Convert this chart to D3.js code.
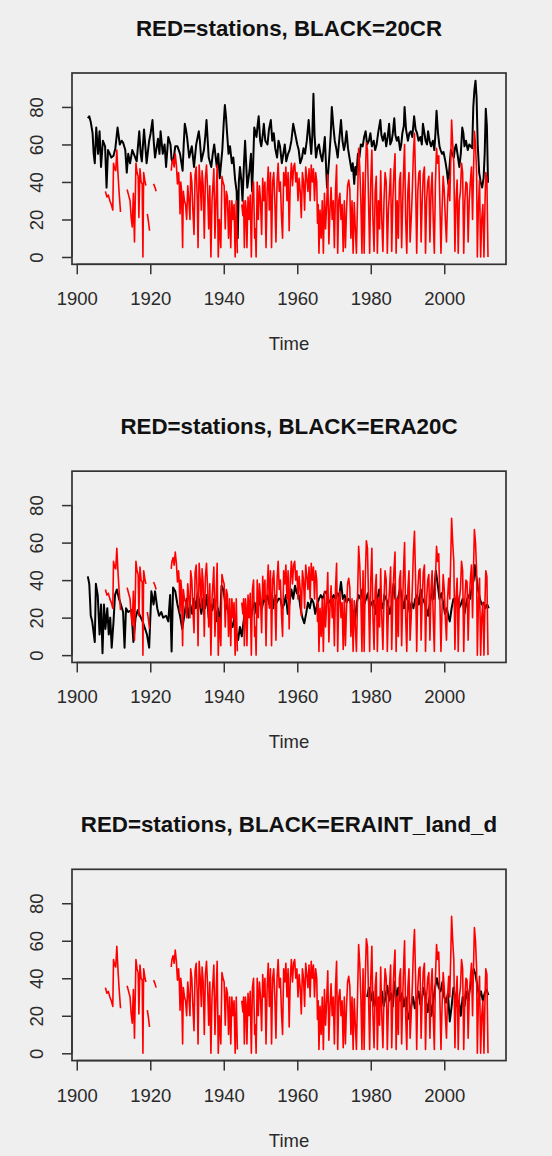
<!DOCTYPE html>
<html><head><meta charset="utf-8">
<script src="https://cdn.jsdelivr.net/npm/d3@7"></script>
<style>html,body{margin:0;padding:0;background:#efefef;}svg{display:block;}</style>
</head><body>
<script>
// ---- data ----
const xTicks = [1900, 1920, 1940, 1960, 1980, 2000];
const yTicks = [0, 20, 40, 60, 80];
const titles = ["RED=stations, BLACK=20CR", "RED=stations, BLACK=ERA20C", "RED=stations, BLACK=ERAINT_land_d"];
const xLabel = "Time";

const stations = [
[1907.8,35],[1908.2,32],[1908.6,33],[1909.0,30],[1909.4,28],[1909.8,25],[1910.0,50],[1910.3,47],[1910.6,46],[1910.9,57],[1911.2,45],[1911.5,35],[1911.9,24],[1912.5,null],
[1913.7,36],[1914.1,33],[1914.5,30],[1914.8,21],[1915.1,16],[1915.4,34],[1915.7,8],[1916.1,50],[1916.4,45],[1916.7,43],[1916.9,21],[1917.2,47],[1917.5,40],[1917.8,39],[1918.0,0],[1918.2,45],[1918.5,41],[1918.8,38],[1919.0,null],
[1919.2,23],[1919.5,19],[1919.8,14],[1920.3,null],[1920.9,39],[1921.3,37],[1921.6,35],[1922.5,null],
[1925.7,46],[1925.9,50],[1926.2,52],[1926.5,48],[1926.8,55],[1927.1,49],[1927.4,39],[1927.7,45],[1927.9,38],[1928.1,23],[1928.3,40],[1928.5,36],[1928.8,5],[1929.0,35],[1929.3,30],[1929.6,28],[1929.9,20],
[1930.2,38],[1930.5,30],[1930.8,20],[1931.0,45],[1931.3,40],[1931.6,25],[1931.9,12],[1932.2,44],[1932.5,48],[1932.8,30],[1933.0,5],[1933.3,49],[1933.6,40],[1933.9,25],[1934.1,46],[1934.4,38],[1934.7,10],[1935.0,42],[1935.3,49],[1935.6,36],[1935.9,15],[1936.2,38],[1936.5,0],[1936.8,30],[1937.1,40],[1937.3,47],[1937.6,10],[1937.9,30],[1938.2,49],[1938.5,0],[1938.8,20],[1939.2,5],[1939.5,43],[1939.8,40],
[1940.1,38],[1940.4,15],[1940.7,35],[1941.0,32],[1941.3,10],[1941.6,30],[1941.9,5],[1942.2,30],[1942.5,20],[1942.8,28],[1943.1,0],[1943.4,30],[1943.7,2],[1944.3,null],
[1944.9,28],[1945.2,22],[1945.4,30],[1945.6,5],[1945.9,30],[1946.1,25],[1946.3,5],[1946.6,32],[1946.9,20],[1947.2,33],[1947.5,0],[1947.8,35],[1948.1,40],[1948.4,10],[1948.6,15],[1948.8,0],[1949.1,40],[1949.4,20],[1949.7,38],
[1950.0,30],[1950.3,12],[1950.6,42],[1950.9,30],[1951.2,40],[1951.5,5],[1951.8,35],[1952.1,48],[1952.4,25],[1952.7,45],[1953.0,5],[1953.3,40],[1953.6,45],[1953.9,30],[1954.2,8],[1954.5,40],[1954.8,50],[1955.1,35],[1955.4,40],[1955.7,22],[1956.0,10],[1956.3,45],[1956.6,38],[1956.9,48],[1957.2,30],[1957.5,45],[1957.8,14],[1958.1,40],[1958.4,50],[1958.7,38],[1959.0,48],[1959.3,50],[1959.6,40],[1959.9,45],
[1960.2,30],[1960.5,42],[1960.8,35],[1961.1,21],[1961.4,45],[1961.7,40],[1962.0,25],[1962.3,48],[1962.6,42],[1962.9,35],[1963.2,47],[1963.5,30],[1963.8,49],[1964.1,40],[1964.4,47],[1964.7,30],[1965.0,45],[1965.3,40],[1965.5,18],[1965.7,28],[1965.9,2],[1966.2,25],[1966.5,10],[1966.8,30],[1967.1,2],[1967.4,34],[1967.7,15],[1968.0,28],[1968.3,44],[1968.6,7],[1968.9,25],[1969.2,37],[1969.5,20],[1969.8,30],
[1970.1,5],[1970.4,35],[1970.7,49],[1971.0,2],[1971.3,30],[1971.6,34],[1971.9,20],[1972.2,28],[1972.5,3],[1972.8,30],[1973.1,5],[1973.4,25],[1973.7,38],[1974.0,41],[1974.3,36],[1974.6,10],[1974.9,30],[1975.2,2],[1975.5,29],[1975.8,15],[1976.1,2],[1976.4,30],[1976.7,58],[1977.0,48],[1977.3,30],[1977.6,2],[1977.9,45],[1978.2,2],[1978.5,40],[1978.8,61],[1979.1,57],[1979.4,30],[1979.7,2],
[1980.0,40],[1980.3,57],[1980.6,20],[1980.9,3],[1981.2,35],[1981.5,43],[1981.8,2],[1982.1,30],[1982.4,15],[1982.7,46],[1983.0,20],[1983.3,3],[1983.6,30],[1983.9,45],[1984.2,40],[1984.5,2],[1984.8,25],[1985.1,35],[1985.4,47],[1985.7,3],[1986.0,30],[1986.3,45],[1986.6,55],[1986.9,2],[1987.2,30],[1987.5,10],[1987.8,40],[1988.1,45],[1988.4,5],[1988.7,30],[1989.0,50],[1989.2,60],[1989.5,20],[1989.8,2],
[1990.1,35],[1990.4,45],[1990.7,8],[1991.0,20],[1991.3,35],[1991.6,55],[1991.9,66],[1992.2,40],[1992.5,2],[1992.8,35],[1993.1,45],[1993.4,46],[1993.7,8],[1994.0,30],[1994.3,44],[1994.6,48],[1994.9,2],[1995.2,30],[1995.5,40],[1995.8,43],[1996.1,8],[1996.4,35],[1996.7,45],[1997.0,20],[1997.3,2],[1997.6,40],[1997.9,58],[1998.2,50],[1998.5,54],[1998.8,30],[1999.1,2],[1999.4,25],[1999.7,43],
[2000.0,35],[2000.3,20],[2000.6,8],[2000.9,30],[2001.2,41],[2001.5,30],[2001.8,55],[2002.0,73],[2002.3,60],[2002.6,50],[2002.9,3],[2003.2,30],[2003.5,41],[2003.8,2],[2004.1,30],[2004.4,35],[2004.7,50],[2005.0,45],[2005.3,2],[2005.6,30],[2005.9,40],[2006.2,39],[2006.5,8],[2006.8,30],[2007.1,40],[2007.4,48],[2007.7,20],[2007.9,40],[2008.2,67],[2008.5,60],[2008.8,45],[2009.0,0],[2009.3,28],[2009.6,41],[2009.9,0],[2010.2,20],[2010.5,28],[2010.8,0],[2011.1,30],[2011.3,45],[2011.6,42],[2011.9,0]
];

const cr20 = [
[1903.0,74],[1903.4,75],[1903.8,72],[1904.3,66],[1904.6,55],[1904.9,50],[1905.3,69],[1905.8,55],[1906.2,67],[1906.6,48],[1907.1,62],[1907.7,59],[1908.1,37],[1908.5,57],[1909.0,55],[1909.4,53],[1910.0,54],[1910.5,58],[1911.1,69],[1911.7,60],[1912.2,62],[1912.6,61],[1913.2,57],[1913.6,45],[1914.0,55],[1914.5,50],[1915.1,57],[1915.7,54],[1916.3,51],[1917.0,67],[1917.4,55],[1917.7,51],[1918.3,68],[1918.7,58],[1919.0,50],[1919.7,62],
[1920.1,66],[1920.6,73],[1921.0,60],[1921.3,53],[1921.7,58],[1922.1,63],[1922.5,55],[1922.8,67],[1923.4,55],[1923.9,60],[1924.3,48],[1924.9,64],[1925.5,60],[1925.8,52],[1926.2,50],[1926.8,59],[1927.4,59],[1928.1,55],[1928.8,46],[1929.1,60],[1929.4,71],[1929.7,68],
[1930.0,64],[1930.6,53],[1931.3,59],[1931.9,48],[1932.5,60],[1933.2,67],[1933.5,62],[1933.9,51],[1934.6,57],[1935.0,65],[1935.3,73],[1935.9,53],[1936.6,48],[1937.0,55],[1937.4,60],[1938.1,48],[1938.5,55],[1938.9,42],[1939.6,57],
[1940.0,72],[1940.3,81],[1940.6,75],[1940.9,66],[1941.3,55],[1941.7,59],[1942.2,50],[1942.6,53],[1943.1,41],[1943.5,35],[1943.8,10],[1944.1,40],[1944.4,48],[1944.8,40],[1945.1,30],[1945.5,50],[1945.8,62],[1946.4,37],[1947.0,46],[1947.4,55],[1947.7,35],[1948.0,50],[1948.3,69],[1948.9,64],[1949.2,70],[1949.5,75],[1949.9,62],
[1950.2,59],[1950.6,65],[1950.9,71],[1951.3,62],[1951.9,60],[1952.3,68],[1952.8,73],[1953.2,62],[1953.6,66],[1954.0,58],[1954.5,53],[1954.9,62],[1955.3,59],[1955.8,50],[1956.2,55],[1956.6,60],[1957.0,51],[1957.5,55],[1957.9,57],[1958.4,62],[1958.9,71],[1959.2,68],[1959.6,64],
[1960.0,60],[1960.4,57],[1960.8,50],[1961.3,53],[1961.7,58],[1962.1,55],[1962.6,62],[1963.1,73],[1963.5,62],[1963.8,55],[1964.1,65],[1964.4,87],[1964.7,65],[1965.1,53],[1965.5,58],[1965.9,60],[1966.3,55],[1966.8,51],[1967.2,58],[1967.5,64],[1967.8,50],[1968.1,37],[1968.4,45],[1968.7,53],[1969.1,65],[1969.4,80],[1969.8,70],
[1970.2,62],[1970.6,58],[1971.0,53],[1971.4,62],[1971.9,73],[1972.3,62],[1972.7,57],[1973.0,60],[1973.4,67],[1973.8,58],[1974.2,53],[1974.8,46],[1975.1,50],[1975.5,39],[1975.8,48],[1976.1,44],[1976.5,55],[1976.9,53],[1977.3,60],[1977.8,59],[1978.2,64],[1978.6,67],[1979.0,60],[1979.5,62],[1979.9,66],
[1980.3,59],[1980.8,62],[1981.2,57],[1981.6,60],[1982.0,66],[1982.6,73],[1982.9,65],[1983.3,62],[1983.8,66],[1984.2,59],[1984.6,64],[1985.0,71],[1985.3,60],[1985.7,62],[1986.0,66],[1986.4,74],[1986.7,65],[1987.1,62],[1987.5,64],[1988.0,57],[1988.3,60],[1988.6,66],[1989.0,70],[1989.2,80],[1989.6,68],
[1990.1,62],[1990.5,66],[1990.9,67],[1991.3,64],[1991.8,75],[1992.2,68],[1992.6,66],[1993.0,62],[1993.5,64],[1993.9,60],[1994.2,71],[1994.6,66],[1994.9,62],[1995.3,60],[1995.6,67],[1996.0,62],[1996.4,59],[1996.9,62],[1997.3,57],[1997.6,66],[1997.9,78],[1998.3,66],[1998.7,59],[1999.0,57],[1999.4,55],[1999.8,56],
[2000.3,51],[2000.7,46],[2001.1,39],[2001.5,50],[2001.8,57],[2002.2,55],[2002.6,53],[2002.9,58],[2003.2,60],[2003.6,55],[2004.1,48],[2004.5,55],[2004.9,69],[2005.2,66],[2005.5,59],[2005.9,62],[2006.4,57],[2006.8,60],[2007.2,59],[2007.6,58],[2007.9,80],[2008.2,89],[2008.5,94],[2008.8,85],[2009.1,60],[2009.5,45],[2009.9,40],[2010.3,37],[2010.7,42],[2011.0,55],[2011.3,79],[2011.6,70],[2011.9,40],[2012.1,40]
];

const era20c = [
[1903.0,42],[1903.4,38],[1903.8,21],[1904.2,18],[1904.9,7],[1905.2,38],[1905.7,32],[1906.2,11],[1906.6,27],[1907.0,1],[1907.4,27],[1907.8,14],[1908.3,25],[1908.7,11],[1909.1,20],[1909.5,4],[1910.0,18],[1910.4,32],[1910.9,35],[1911.5,30],[1912.0,27],[1912.6,23],[1913.0,4],[1913.4,25],[1914.0,23],[1914.9,24],[1915.4,7],[1916.0,20],[1916.6,24],[1917.2,21],[1917.9,18],[1918.6,14],[1919.1,11],[1919.7,4],
[1920.3,34],[1920.9,27],[1921.3,34],[1921.9,25],[1922.4,21],[1923.0,23],[1923.5,20],[1924.3,21],[1924.9,18],[1925.4,32],[1925.8,2],[1926.2,36],[1926.8,34],[1927.4,27],[1928.1,21],[1928.7,14],[1929.4,23],[1929.9,30],
[1930.4,20],[1930.9,27],[1931.4,22],[1931.9,30],[1932.4,25],[1932.9,33],[1933.4,28],[1933.9,22],[1934.4,30],[1934.9,25],[1935.4,32],[1935.9,20],[1936.4,27],[1936.9,24],[1937.4,30],[1937.9,18],[1938.4,25],[1938.9,15],[1939.4,37],[1939.9,35],
[1940.4,28],[1940.9,25],[1941.4,22],[1941.9,18],[1942.4,15],[1942.9,20],[1943.4,12],[1943.9,8],[1944.4,15],[1944.9,10],[1945.4,18],[1945.9,25],[1946.4,22],[1946.9,28],[1947.4,20],[1947.9,25],[1948.4,28],[1948.9,22],[1949.4,30],[1949.9,27],
[1950.4,25],[1950.9,30],[1951.4,28],[1951.9,32],[1952.4,27],[1952.9,30],[1953.4,25],[1953.9,32],[1954.4,28],[1954.9,30],[1955.4,30],[1955.9,25],[1956.4,27],[1956.9,32],[1957.4,22],[1957.9,28],[1958.4,35],[1958.9,30],[1959.4,37],[1959.9,33],
[1960.4,32],[1960.9,25],[1961.4,20],[1961.9,17],[1962.4,22],[1962.9,28],[1963.4,25],[1963.9,30],[1964.4,28],[1964.9,22],[1965.4,27],[1965.9,30],[1966.4,32],[1966.9,30],[1967.4,33],[1967.9,34],[1968.4,30],[1968.9,28],[1969.4,30],[1969.9,32],
[1970.4,30],[1970.9,33],[1971.4,31],[1971.9,39],[1972.4,30],[1972.9,32],[1973.4,28],[1973.9,30],[1974.4,29],[1974.9,25],[1975.4,22],[1975.7,18],[1976.2,28],[1976.7,32],[1977.2,30],[1977.7,35],[1978.2,27],[1978.7,30],[1979.2,33],[1979.7,25],
[1980.2,28],[1980.8,29],[1981.3,22],[1981.8,30],[1982.3,35],[1982.8,28],[1983.3,25],[1983.7,32],[1984.2,30],[1984.7,27],[1985.2,22],[1985.7,27],[1986.2,38],[1986.7,30],[1987.2,28],[1987.7,33],[1988.0,36],[1988.5,30],[1989.0,25],[1989.5,32],
[1990.1,29],[1990.6,23],[1991.1,28],[1991.6,25],[1992.1,30],[1992.6,32],[1993.1,27],[1993.6,35],[1994.1,30],[1994.6,28],[1995.1,25],[1995.6,21],[1996.1,28],[1996.6,33],[1997.1,30],[1997.7,45],[1998.2,38],[1998.7,30],[1999.2,33],[1999.7,28],
[2000.2,22],[2000.7,25],[2001.2,20],[2001.5,18],[2002.0,25],[2002.5,30],[2003.0,28],[2003.5,32],[2004.0,25],[2004.5,27],[2005.0,30],[2005.5,22],[2006.0,28],[2006.5,32],[2007.0,30],[2007.5,36],[2008.0,40],[2008.3,48],[2008.7,42],[2009.2,35],[2009.7,30],[2010.2,27],[2010.7,28],[2011.2,25],[2011.7,27],[2012.1,25]
];

const eraint = [
[1979.0,30],[1979.5,35],[1980.0,28],[1980.5,33],[1981.0,25],[1981.5,30],[1982.0,22],[1982.5,28],[1983.0,33],[1983.5,25],[1984.0,30],[1984.5,36],[1985.0,28],[1985.5,32],[1986.0,25],[1986.5,38],[1987.0,30],[1987.5,35],[1988.0,28],[1988.5,32],[1989.0,25],[1989.5,30],
[1990.0,22],[1990.5,18],[1991.0,25],[1991.5,30],[1992.0,24],[1992.5,28],[1993.0,33],[1993.5,26],[1994.0,30],[1994.5,35],[1995.0,28],[1995.5,22],[1996.0,30],[1996.5,20],[1997.0,28],[1997.5,35],[1998.0,40],[1998.5,35],[1999.0,33],[1999.5,38],
[2000.0,30],[2000.5,27],[2001.0,32],[2001.5,17],[2002.0,25],[2002.5,35],[2003.0,30],[2003.5,25],[2004.0,28],[2004.5,20],[2005.0,30],[2005.5,25],[2006.0,33],[2006.5,28],[2007.0,35],[2007.5,40],[2008.0,45],[2008.5,42],[2009.0,36],[2009.5,30],[2010.0,33],[2010.5,28],[2011.0,32],[2011.5,34],[2012.0,31]
];

const blackSeries = [cr20, era20c, eraint];

// ---- layout ----
const W = 552, H = 1156;
const boxL = 72, boxR = 506, boxH = 191.3, firstTop = 73, panelStep = 398.15;
const font = "'Liberation Sans', Arial, Helvetica, sans-serif";

const svg = d3.select("body").append("svg").attr("width", W).attr("height", H);
svg.append("rect").attr("width", W).attr("height", H).attr("fill", "#efefef");

const x = d3.scaleLinear().domain([1898.7, 2016.8]).range([boxL, boxR]);

blackSeries.forEach((series, i) => {
  const top = firstTop + i * panelStep;
  const y = d3.scaleLinear().domain([-3.9, 98.1]).range([top + boxH, top]);
  const g = svg.append("g");
  const line = d3.line().defined(d => d[1] != null).x(d => x(d[0])).y(d => y(d[1]));

  g.append("path").datum(series).attr("d", line)
    .attr("fill", "none").attr("stroke", "#000").attr("stroke-width", 2).attr("stroke-linejoin", "round");
  g.append("path").datum(stations).attr("d", line)
    .attr("fill", "none").attr("stroke", "#ff0000").attr("stroke-width", 1.6).attr("stroke-linejoin", "round");

  g.append("rect").attr("x", boxL).attr("y", top).attr("width", boxR - boxL).attr("height", boxH)
    .attr("fill", "none").attr("stroke", "#333").attr("stroke-width", 1.7);

  // y axis
  const ya = g.append("g").attr("transform", `translate(${boxL},0)`)
    .call(d3.axisLeft(y).tickValues(yTicks).tickSize(10).tickPadding(0).tickFormat(d3.format("d")));
  ya.select(".domain").attr("stroke", "#333").attr("stroke-width", 1.5).attr("d", `M0,${y(0)}V${y(80)}`);
  ya.selectAll(".tick line").attr("stroke", "#333").attr("stroke-width", 1.5);
  ya.selectAll(".tick text")
    .attr("x", 0).attr("y", 0).attr("dy", null)
    .attr("transform", "translate(-29,0) rotate(-90)")
    .attr("text-anchor", "middle").attr("fill", "#2a2a2a")
    .style("font-family", font).style("font-size", "18.5px");

  // x axis
  const xa = g.append("g").attr("transform", `translate(0,${top + boxH})`)
    .call(d3.axisBottom(x).tickValues(xTicks).tickSize(10).tickPadding(0).tickFormat(d3.format("d")));
  xa.select(".domain").attr("stroke", "#333").attr("stroke-width", 1.5).attr("d", `M${x(1900)},0H${x(2000)}`);
  xa.selectAll(".tick line").attr("stroke", "#333").attr("stroke-width", 1.5);
  xa.selectAll(".tick text").attr("y", 41).attr("dy", null).attr("fill", "#2a2a2a")
    .style("font-family", font).style("font-size", "18.5px");

  g.append("text").attr("x", (boxL + boxR) / 2).attr("y", top + boxH + 86)
    .attr("text-anchor", "middle").attr("fill", "#2a2a2a")
    .style("font-family", font).style("font-size", "18.5px").text(xLabel);

  g.append("text").attr("x", (boxL + boxR) / 2).attr("y", top - 37)
    .attr("text-anchor", "middle").attr("fill", "#111")
    .style("font-family", font).style("font-size", "22.3px").style("font-weight", "bold").text(titles[i]);
});
</script>
</body></html>
